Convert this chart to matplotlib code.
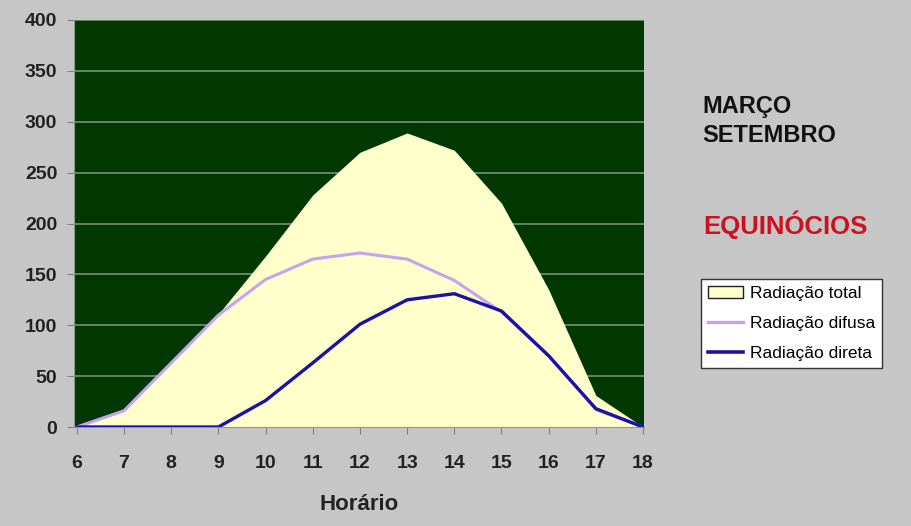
import matplotlib
matplotlib.use("Agg")
import matplotlib.pyplot as plt
from matplotlib.patches import Patch
from matplotlib.lines import Line2D

hours = [6, 7, 8, 9, 10, 11, 12, 13, 14, 15, 16, 17, 18]
total = [0, 17, 63, 111, 168, 228, 270, 289, 272, 220, 135, 31, 0]
difusa = [0, 16, 63, 110, 145, 165, 171, 165, 144, 113, 70, 17, 0]
direta = [0, 0, 0, 0, 26, 63, 101, 125, 131, 114, 70, 18, 0]
yticks = [0, 50, 100, 150, 200, 250, 300, 350, 400]

plt.rcParams['font.family'] = ['Liberation Sans', 'DejaVu Sans']

fig = plt.figure(figsize=(9.12, 5.26), dpi=100)
fig.patch.set_facecolor('#c6c6c6')
ax = fig.add_axes([74/912, 1-427/526, (644-74)/912, (427-20)/526])
ax.set_facecolor('#013801')

ax.fill_between(hours, total, 0, color='#ffffcc', zorder=2, linewidth=0)
ax.plot(hours, difusa, color='#c8a2f0', lw=2.2, zorder=3)
ax.plot(hours, direta, color='#1a12a8', lw=2.4, zorder=4)

ax.set_xlim(5.94, 18.02)
ax.set_ylim(0, 400)
ax.set_yticks(yticks)
ax.set_xticks(hours)
ax.yaxis.grid(True, color='#6f8a6a', lw=1.3, zorder=1)
ax.set_axisbelow(True)
for s in ['top', 'right']:
    ax.spines[s].set_visible(False)
ax.spines['left'].set_color('#8a9a8a')
ax.spines['bottom'].set_color('#8a9a8a')
ax.tick_params(axis='both', colors='#808080', labelcolor='#222222', labelsize=14, length=5)
ax.tick_params(axis='x', pad=15)
ax.tick_params(axis='y', pad=7)
for lab in ax.get_xticklabels() + ax.get_yticklabels():
    lab.set_fontweight('bold')
ax.set_xlabel('Horário', fontsize=16, fontweight='bold', color='#222222', labelpad=16)

fig.text(702/912, 1-106/526, 'MARÇO', fontsize=17, fontweight='bold',
         color='#111111', va='center', ha='left')
fig.text(702/912, 1-136/526, 'SETEMBRO', fontsize=17, fontweight='bold',
         color='#111111', va='center', ha='left')
fig.text(703/912, 1-225/526, 'EQUINÓCIOS', fontsize=18.5, fontweight='bold',
         color='#cc1020', va='center', ha='left')

handles = [Patch(facecolor='#ffffcc', edgecolor='#222222', lw=1.0),
           Line2D([], [], color='#c8a2f0', lw=2.4),
           Line2D([], [], color='#1a12a8', lw=2.6)]
labels = ['Radiação total', 'Radiação difusa', 'Radiação direta']
leg = fig.legend(handles, labels, loc='upper left', bbox_to_anchor=(701/912, 1-279/526),
                 frameon=True, fontsize=12.5, handlelength=2.0, handletextpad=0.4,
                 borderpad=0.4, labelspacing=0.85, fancybox=False, borderaxespad=0,
                 framealpha=1.0)
leg.get_frame().set_facecolor('white')
leg.get_frame().set_edgecolor('#333333')
leg.get_frame().set_linewidth(1.0)

fig.savefig('out.png', dpi=100, facecolor=fig.get_facecolor())
